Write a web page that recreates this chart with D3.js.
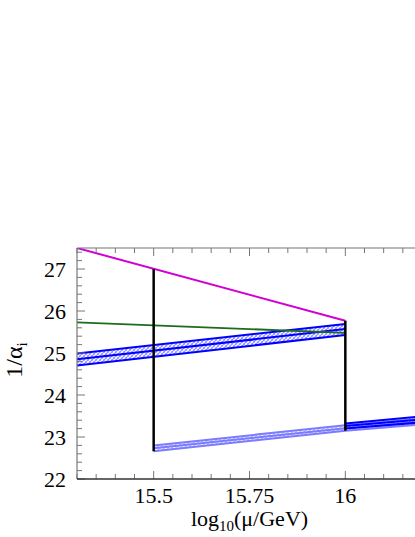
<!DOCTYPE html>
<html>
<head>
<meta charset="utf-8">
<script src="https://cdn.jsdelivr.net/npm/d3@7"></script>
<style>
  body { margin: 0; background: #fff; }
  svg { display: block; }
</style>
</head>
<body>
<script>
// x and y ranges of the frame
var xDomain = [15.3, 16.2];
var yDomain = [22, 27.5];
var xMajorTicks = [15.5, 15.75, 16];
var yMajorTicks = [22, 23, 24, 25, 26, 27];

// single lines: [log10 mu, 1/alpha]
var magentaLine = [[15.3, 27.5], [16, 25.77]];
var greenLine = [[15.3, 25.73], [16, 25.48]];

// dark blue band below 16
var bandA_x = [15.3, 16];
var bandA_hi = [24.99, 25.69];
var bandA_mid = [24.85, 25.57];
var bandA_lo = [24.70, 25.43];

// light blue band from 15.5 on
var bandB_x = [15.5, 16, 16.2];
var bandB_hi = [22.80, 23.28, 23.44];
var bandB_mid = [22.73, 23.21, 23.37];
var bandB_lo = [22.66, 23.15, 23.30];

// dark blue band above 16
var bandC_x = [16, 16.2];
var bandC_hi = [23.32, 23.49];
var bandC_mid = [23.26, 23.42];
var bandC_lo = [23.20, 23.35];

// vertical jumps: [x, yBottom, yTop]
var jumps = [[15.5, 22.66, 27.0], [16, 23.15, 25.77]];

var width = 415, height = 537;
var margin = {left: 77, top: 248, right: -7, bottom: 58};
var serif = "'Liberation Serif', 'Times New Roman', Times, 'DejaVu Serif', serif";

var svg = d3.select("body").append("svg")
    .attr("width", width)
    .attr("height", height)
    .attr("font-family", serif);

var x = d3.scaleLinear().domain(xDomain).range([margin.left, width - margin.right]);
var y = d3.scaleLinear().domain(yDomain).range([height - margin.bottom, margin.top]);

var defs = svg.append("defs");
function hatch(id, color) {
  var p = defs.append("pattern")
      .attr("id", id)
      .attr("patternUnits", "userSpaceOnUse")
      .attr("width", 4).attr("height", 4);
  p.append("path").attr("d", "M-1,1 L1,-1 M0,4 L4,0 M3,5 L5,3")
      .attr("stroke", color).attr("stroke-width", 1.1);
  p.append("path").attr("d", "M-1,3 L1,5 M0,0 L4,4 M3,-1 L5,1")
      .attr("stroke", color).attr("stroke-width", 0.6);
}
hatch("hatchDark", "#8c8cff");
hatch("hatchLight", "#b4b4ff");

defs.append("clipPath").attr("id", "plotClip")
  .append("rect")
    .attr("x", x(xDomain[0])).attr("y", y(yDomain[1]))
    .attr("width", x(xDomain[1]) - x(xDomain[0]))
    .attr("height", y(yDomain[0]) - y(yDomain[1]));

var plot = svg.append("g").attr("clip-path", "url(#plotClip)");

var line = d3.line().x(function (d) { return x(d[0]); }).y(function (d) { return y(d[1]); });
function pts(xs, ys) { return xs.map(function (v, i) { return [v, ys[i]]; }); }

function drawBand(xs, hi, mid, lo, fill, stroke, opacity) {
  var g = plot.append("g").attr("opacity", opacity);
  var area = d3.area()
      .x(function (d) { return x(d[0]); })
      .y0(function (d) { return y(d[1]); })
      .y1(function (d) { return y(d[2]); });
  g.append("path")
      .attr("d", area(xs.map(function (v, i) { return [v, lo[i], hi[i]]; })))
      .attr("fill", fill);
  [hi, mid, lo].forEach(function (ys) {
    g.append("path").attr("d", line(pts(xs, ys)))
        .attr("fill", "none").attr("stroke", stroke).attr("stroke-width", 2);
  });
  return g;
}

drawBand(bandB_x, bandB_hi, bandB_mid, bandB_lo, "url(#hatchLight)", "#6d6dff", 0.9);
drawBand(bandA_x, bandA_hi, bandA_mid, bandA_lo, "url(#hatchDark)", "#0000ff", 1);
drawBand(bandC_x, bandC_hi, bandC_mid, bandC_lo, "url(#hatchDark)", "#0000ff", 1);

plot.append("path").attr("d", line(greenLine))
    .attr("fill", "none").attr("stroke", "#1d6b1d").attr("stroke-width", 1.8);
plot.append("path").attr("d", line(magentaLine))
    .attr("fill", "none").attr("stroke", "#d200d2").attr("stroke-width", 2);

plot.selectAll(".jump").data(jumps).enter().append("line")
    .attr("class", "jump")
    .attr("x1", function (d) { return x(d[0]); })
    .attr("x2", function (d) { return x(d[0]); })
    .attr("y1", function (d) { return y(d[1]); })
    .attr("y2", function (d) { return y(d[2]); })
    .attr("stroke", "#000").attr("stroke-width", 2.5);

// frame with inward ticks
var axisColor = "#777";
var xMinor = d3.range(15.3, 16.2001, 0.05).map(function (v) { return +v.toFixed(2); });
var yMinor = d3.range(22, 27.5001, 0.2).map(function (v) { return +v.toFixed(1); });

function isMajor(v, list) { return list.some(function (m) { return Math.abs(m - v) < 1e-6; }); }

var frame = svg.append("g");
xMinor.forEach(function (v) {
  var len = isMajor(v, xMajorTicks) ? 8 : 5;
  frame.append("line").attr("x1", x(v)).attr("x2", x(v))
      .attr("y1", y(22)).attr("y2", y(22) - len)
      .attr("stroke", axisColor).attr("stroke-width", 1);
  frame.append("line").attr("x1", x(v)).attr("x2", x(v))
      .attr("y1", y(27.5)).attr("y2", y(27.5) + len)
      .attr("stroke", axisColor).attr("stroke-width", 1);
});
yMinor.forEach(function (v) {
  var len = isMajor(v, yMajorTicks) ? 8 : 5;
  frame.append("line").attr("x1", x(15.3)).attr("x2", x(15.3) + len)
      .attr("y1", y(v)).attr("y2", y(v))
      .attr("stroke", axisColor).attr("stroke-width", 1);
});
frame.append("line").attr("x1", x(15.3)).attr("x2", x(15.3))
    .attr("y1", y(22)).attr("y2", y(27.5)).attr("stroke", axisColor).attr("stroke-width", 1.2);
frame.append("line").attr("x1", x(15.3)).attr("x2", x(16.2))
    .attr("y1", y(27.5)).attr("y2", y(27.5)).attr("stroke", axisColor).attr("stroke-width", 1.2);
frame.append("line").attr("x1", x(15.3)).attr("x2", x(16.2))
    .attr("y1", y(22)).attr("y2", y(22)).attr("stroke", "#333").attr("stroke-width", 1.5);

// tick labels
svg.selectAll(".xl").data(xMajorTicks).enter().append("text")
    .attr("class", "xl")
    .attr("x", function (d) { return x(d); })
    .attr("y", y(22) + 24)
    .attr("text-anchor", "middle")
    .attr("font-size", 22)
    .text(function (d) { return String(d); });
svg.selectAll(".yl").data(yMajorTicks).enter().append("text")
    .attr("class", "yl")
    .attr("x", x(15.3) - 11)
    .attr("y", function (d) { return y(d); })
    .attr("dy", "0.35em")
    .attr("text-anchor", "end")
    .attr("font-size", 22)
    .text(function (d) { return d; });

// axis titles
var xt = svg.append("text")
    .attr("x", (x(15.3) + x(16.2)) / 2)
    .attr("y", 526)
    .attr("text-anchor", "middle")
    .attr("font-size", 22);
xt.append("tspan").text("log");
xt.append("tspan").attr("font-size", 15).attr("dy", 5).text("10");
xt.append("tspan").attr("dy", -5).text("(\u03bc/GeV)");

var yt = svg.append("text")
    .attr("transform", "translate(22," + 360 + ") rotate(-90)")
    .attr("text-anchor", "middle")
    .attr("font-size", 24);
yt.append("tspan").text("1/\u03b1");
yt.append("tspan").attr("font-size", 15).attr("dy", 5).text("i");
</script>
</body>
</html>
